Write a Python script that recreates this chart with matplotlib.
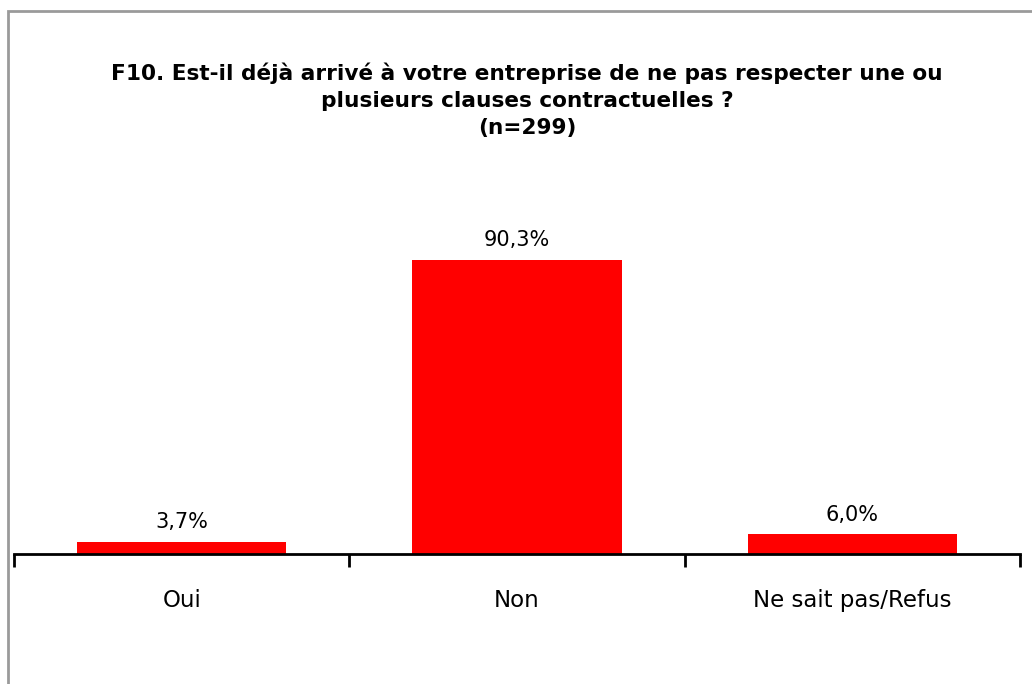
import matplotlib.pyplot as plt
from matplotlib.patches import Rectangle

categories = ["Oui", "Non", "Ne sait pas/Refus"]
values = [3.7, 90.3, 6.0]
title = ("F10. Est-il déjà arrivé à votre entreprise de ne pas respecter une ou\n"
         "plusieurs clauses contractuelles ?\n(n=299)")

fig = plt.figure(figsize=(10.32, 6.84), dpi=100)
ax = fig.add_axes([14 / 1032, 1 - 554 / 684, 1006 / 1032, 326 / 684])

x = range(len(categories))
bars = ax.bar(x, values, width=0.625, color="#ff0000")
for b, v in zip(bars, values):
    ax.text(b.get_x() + b.get_width() / 2, v + 3, f"{v:.1f}%".replace(".", ","),
            ha="center", va="bottom", fontsize=15)

ax.set_xlim(-0.5, len(categories) - 0.5)
ax.set_ylim(0, 100)
# category boundaries carry the tick marks, names sit between them
ax.set_xticks([i - 0.5 for i in range(len(categories) + 1)])
ax.set_xticklabels([])
ax.set_xticks(list(x), minor=True)
ax.set_xticklabels(categories, minor=True, fontsize=16.5)
ax.tick_params(axis="x", which="major", direction="out", length=9, width=2)
ax.tick_params(axis="x", which="minor", length=0, pad=25)
ax.set_yticks([])
for s in ["top", "right", "left"]:
    ax.spines[s].set_visible(False)
ax.spines["bottom"].set_linewidth(2)

fig.text(527 / 1032, 1 - 62 / 684, title, ha="center", va="top",
         fontsize=15.6, fontweight="bold", linespacing=1.45)

# grey frame around the chart area
fig.patches.append(Rectangle((8 / 1032, -0.1), 1.2, 1 - 11 / 684 + 0.1,
                             transform=fig.transFigure, fill=False,
                             edgecolor="#9a9a9a", linewidth=2))

fig.savefig("out.png", dpi=100, facecolor="white")
